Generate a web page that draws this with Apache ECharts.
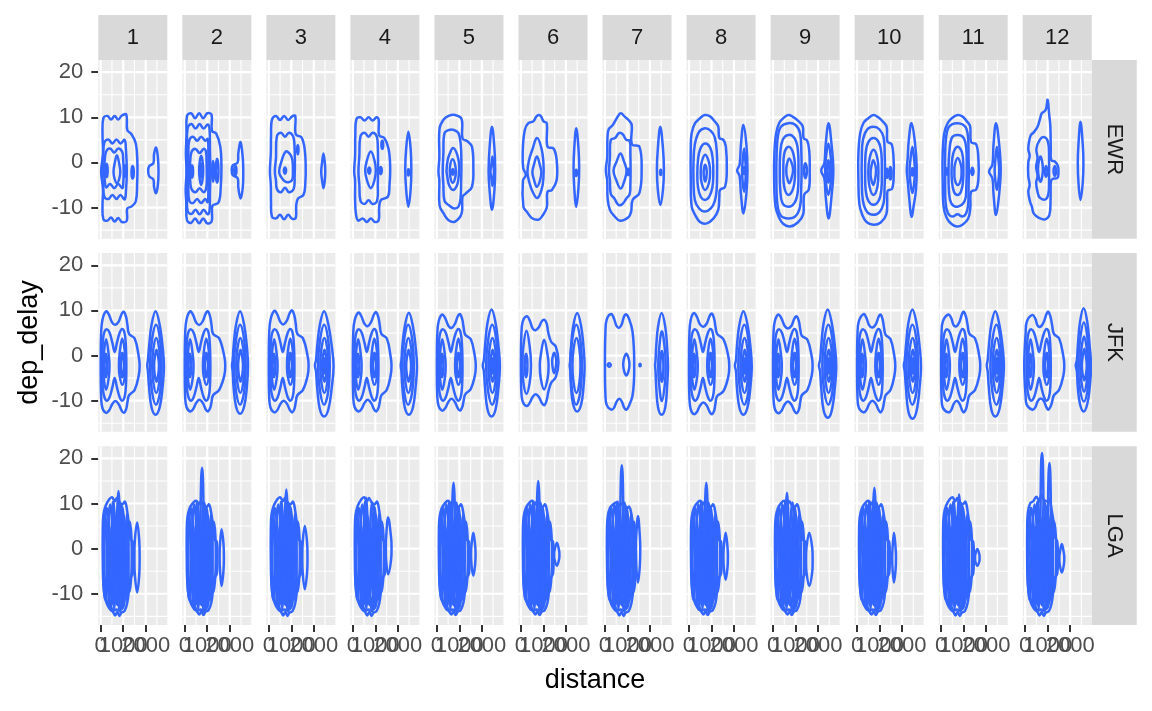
<!DOCTYPE html>
<html><head><meta charset="utf-8">
<script src="https://cdn.jsdelivr.net/npm/echarts@6/dist/echarts.min.js"></script>
<style>html,body{margin:0;padding:0;background:#fff}#c{width:1152px;height:711px}</style>
</head><body><div id="c"></div>
<script>
// ---------- categories and ticks ----------
const months = ['1','2','3','4','5','6','7','8','9','10','11','12'];
const origins = ['EWR','JFK','LGA'];
const xTickValues = [0, 1000, 2000];
const xMinorValues = [500, 1500, 2500];
const yTickValues = [-10, 0, 10, 20];
const yMinorValues = [-15, -5, 5, 15];
const distanceRange = [-107, 2960];
const delayRange = [-16.9, 22.7];

// ---------- density contour rings (distance in hundreds of miles, dep_delay) ----------
const ewrContours = [
 [ // 1
  [1.2,9.8, 3,10.3, 4.6,9.5, 6.2,10.3, 7.8,9.5, 9.4,10.4, 11.4,10.6, 11.8,7.2, 13.6,6.3, 15.6,4.2, 16.3,0, 16.2,-4.5, 15.6,-8.6, 13.6,-9.8, 11.8,-10.2, 11.6,-12.9, 9.4,-13.2, 7.8,-12.3, 6.2,-13.1, 4.6,-12.2, 3,-12.9, 1.2,-12.6, 0.8,-9.6, 1,-6, 0.2,-2, 1,2, 0.8,6.5],
  [1.6,4.4, 3.4,5.1, 5.2,4.2, 7,5.1, 8.8,4.2, 10.6,5, 11.2,3, 11.6,-2, 11.2,-6.5, 10.6,-8.2, 8.8,-7.2, 7,-8.1, 5.2,-7.2, 3.4,-8.1, 1.6,-7.6, 1.1,-5, 0.6,-2, 1.1,1.5],
  [2.4,2.4, 4.2,3.1, 6,2.2, 7.8,3.1, 9.6,2.3, 10,0.5, 10.2,-2, 10,-4.8, 9.6,-5.7, 7.8,-4.8, 6,-5.7, 4.2,-4.8, 2.4,-5.5, 1.7,-3.5, 1.3,-2, 1.7,0],
  [7.2,1.6, 8.3,-0.5, 8.7,-2, 8.3,-3.5, 7.2,-4.6, 6.1,-3.5, 5.7,-2, 6.1,-0.5],
  [2.6,-0.3, 3.1,-1.8, 2.6,-3.3, 2.1,-1.8],
  [10.8,-0.6, 11.2,-1.9, 10.8,-3.2, 10.5,-1.9],
  [14.2,-0.8, 14.7,-2.2, 14.2,-3.6, 13.7,-2.2],
  [24.6,3.3, 25.4,1.2, 25.7,-2, 25.4,-5, 24.6,-6.8, 23.7,-5.4, 23.4,-3.8, 21.6,-3.1, 21.1,-1.9, 21.6,-0.8, 23.4,-0.2, 23.7,1.8]
 ],
 [ // 2
  [1,10.3, 2.8,10.9, 4.6,9.8, 6.4,10.9, 8.2,9.8, 10,10.9, 11.9,10.6, 12.1,7, 14,6.4, 15.8,3.5, 16.3,-1, 16,-5.5, 15,-8.9, 12.3,-9.6, 12,-13, 10,-13.5, 8.2,-12.4, 6.4,-13.5, 4.6,-12.4, 2.8,-13.4, 1,-12.8, 0.7,-9, 0.4,-6, 0.8,-2, 0.5,2, 0.8,6],
  [1.3,7.7, 3,8.5, 4.8,7.5, 6.6,8.5, 8.4,7.5, 10.2,8.4, 11,7.5, 11.2,3, 11.4,-2, 11.2,-7, 11,-10.8, 10.2,-11.5, 8.4,-10.5, 6.6,-11.5, 4.8,-10.5, 3,-11.4, 1.3,-10.8, 1,-7, 0.9,-2, 1,3],
  [2,4.9, 3.7,5.7, 5.5,4.8, 7.3,5.7, 9.1,4.8, 10.2,5.2, 10.5,2, 10.6,-2, 10.5,-6, 10.2,-8.8, 9.1,-8.1, 7.3,-9, 5.5,-8.1, 3.7,-9, 2,-8.5, 1.6,-5, 1.5,-2, 1.6,1.5],
  [3,2.3, 4.8,3, 6.6,2.1, 8.4,3, 9.4,2.5, 9.7,0, 9.8,-2.5, 9.6,-5.5, 8.4,-6.6, 6.6,-5.7, 4.8,-6.6, 3,-5.9, 2.4,-4, 2.2,-2, 2.4,0],
  [7.3,1.5, 8.2,-1.8, 7.3,-5, 6.4,-1.8],
  [7.3,-0.3, 7.8,-1.8, 7.3,-3.3, 6.8,-1.8],
  [3.2,-0.6, 3.7,-2, 3.2,-3.4, 2.8,-2],
  [12.6,0.3, 13,-2, 12.6,-4.3, 12.2,-2],
  [14.4,0.8, 15,-1.9, 14.4,-4.5, 13.8,-1.9],
  [24.8,4.5, 25.8,1, 26,-2, 25.8,-5.5, 24.8,-8, 23.8,-5.5, 23.5,-3.5, 21.3,-2.8, 20.9,-1.8, 21.3,-0.7, 23.5,0, 23.8,2],
  [22.5,-0.8, 23,-1.8, 22.5,-2.8, 22,-1.8]
 ],
 [ // 3
  [1.4,9.5, 3.2,10.3, 5,9.4, 6.8,10.3, 8.6,9.4, 10.4,10.2, 11.8,10.3, 12,6.2, 14.5,5.6, 15.8,3.5, 16.4,-0.5, 16.2,-5, 15.4,-7.2, 13,-8, 12.2,-9.5, 12,-12.3, 10.4,-12.5, 8.6,-11.6, 6.8,-12.6, 5,-11.6, 3.2,-12.4, 1.4,-12, 1,-9, 0.9,-5, 0.5,-2, 0.9,2, 1,6],
  [3.6,5.8, 5.4,6.6, 7.2,5.7, 9,6.6, 10.8,5.8, 11.4,4, 11.6,0, 11.5,-3, 11.1,-5.8, 9,-6.6, 7.2,-5.6, 5.4,-6.6, 3.6,-5.9, 3.2,-4, 2.7,-2, 3.2,1],
  [7.5,2.4, 9.5,1.8, 10.5,0.5, 10.7,-2.2, 10.2,-4, 7.5,-4.3, 5.2,-3, 4.6,-2, 5.2,-0.5],
  [7.2,-1.1, 7.7,-1.8, 7.2,-2.5, 6.7,-1.8],
  [12.9,3.8, 13.2,2.8, 12.9,1.8, 12.6,2.8],
  [24.3,2, 24.9,0, 25.1,-2, 24.9,-4, 24.3,-5.7, 23.7,-4, 23.3,-2, 23.7,0]
 ],
 [ // 4
  [1.6,9.6, 3.4,10, 5.2,9.3, 7,10, 8.8,9.3, 10.6,10, 11.5,9.5, 11.7,6, 14,5.4, 15.9,3, 16.6,-1, 16.3,-5, 15.6,-7.6, 12.5,-8.3, 11.7,-10, 11.5,-12.8, 9.8,-13.2, 8,-12.4, 6.2,-13.2, 4.4,-12.4, 2.4,-12.9, 1.4,-11.5, 1,-8, 1,-4, 0.6,-2, 1,1.5, 1.1,6],
  [3.4,5.8, 5.2,6.6, 7,5.7, 8.8,6.6, 10.6,5.8, 11.1,3.5, 11.2,-1, 11.1,-5, 10.8,-8.5, 8.8,-9.2, 7,-8.4, 5.2,-9.2, 3.4,-8.5, 2.9,-5, 2.5,-2, 2.9,1.5],
  [8,2.4, 9.6,0.5, 10.2,-1.8, 9.6,-4, 8,-5.7, 6.3,-4, 5.5,-1.8, 6.3,0.5],
  [7.3,-1.1, 7.8,-1.8, 7.3,-2.5, 6.8,-1.8],
  [12.4,-1, 12.9,-1.8, 12.4,-2.6, 11.9,-1.8],
  [13.1,4.8, 13.5,3.9, 13.1,3, 12.7,3.9],
  [24.7,6.8, 25.7,3, 26,-1.5, 25.7,-6, 24.7,-9.8, 23.7,-6, 23.3,-1.5, 23.7,3],
  [24.7,-1.5, 25,-2.2, 24.7,-2.9, 24.4,-2.2]
 ],
 [ // 5
  [3,9.5, 5.2,10.3, 8.1,10.5, 11,9.6, 11.4,5.3, 13.6,4.7, 15.6,3.5, 16.2,-1, 15.6,-5.4, 12.8,-6.9, 11.4,-7.6, 11,-11.3, 8.1,-13.1, 5.2,-12.8, 3,-11.3, 1.2,-9.5, 1.1,-4, 0.7,-2, 1.1,1, 1.2,7.5],
  [3.4,6.5, 5.4,7.2, 7.6,7.2, 9.6,6.5, 10.6,4, 10.9,0, 10.8,-4, 10.5,-8, 9.6,-9.8, 7.6,-10.2, 5.4,-9.5, 3.4,-8.5, 2.9,-5, 2.6,-2, 2.9,2],
  [7.2,3.2, 9,1.8, 9.9,-0.5, 9.7,-3, 9,-5, 7.2,-6.1, 5.4,-5, 4.6,-3, 4.3,-1.8, 4.8,0.5, 5.6,1.8],
  [7,0.7, 8.3,-1, 8.3,-3, 7,-4.5, 5.9,-3, 5.8,-1],
  [7.1,-1.5, 7.5,-2.1, 7.1,-2.7, 6.7,-2.1],
  [24.5,7.9, 25.6,3, 25.9,-1.5, 25.6,-6, 24.5,-10.5, 23.4,-6, 23,-2, 23.4,3],
  [24.7,1.3, 25.3,-1, 25.3,-3, 24.7,-5.2, 24.1,-3, 23.8,-2, 24.1,-1]
 ],
 [ // 6
  [1.8,7.3, 3.3,8.7, 5.5,9.1, 7.1,10.3, 8.6,10.4, 10.1,9.1, 11.5,8.7, 11.8,3.5, 14.5,3.1, 15.9,0.5, 15.9,-3.9, 13.8,-6.1, 11.8,-6.5, 11.5,-10, 9.3,-12, 7.8,-12.7, 4.8,-12.3, 2.6,-10.9, 1.1,-9.8, 0.9,-4, 2.2,-2.8, 1,-1.2, 0.9,3.5],
  [7.1,5.4, 9,3.4, 10,0, 10,-3.5, 9.2,-6, 7.3,-7.9, 5.2,-6.5, 3.8,-4.5, 2.9,-2.2, 3.6,0.5, 5.2,3],
  [7.1,1.3, 8.5,-0.7, 9.1,-2.2, 8.5,-4, 7.1,-5.4, 5.8,-3.8, 5.1,-2.2, 5.8,-0.5],
  [24.6,7.6, 25.6,3, 25.9,-1.2, 25.6,-5.5, 24.6,-9.8, 23.7,-5.5, 23.4,-1.2, 23.7,3],
  [24.6,-1.6, 24.9,-2.3, 24.6,-3, 24.3,-2.3]
 ],
 [ // 7
  [1.6,7.3, 3.5,8.3, 5.5,10, 7,10.9, 8.9,10.1, 10.5,9.4, 11.9,8.3, 12,4, 15.3,3.5, 16.3,-1.7, 15.3,-6.8, 12.3,-8.3, 11.6,-11, 10.3,-12.2, 6.7,-12.9, 4,-11.8, 2.2,-10.5, 1.2,-8, 1,-4, 0.4,-1.7, 1,1, 1.1,5],
  [2.6,5, 4.5,5.4, 6.2,6.5, 7.8,6.3, 9.5,5, 11,4.8, 11.3,2, 11.4,-1.7, 11.3,-5, 11,-7, 9.5,-8, 7.8,-9.2, 6,-9.4, 4.2,-8, 2.6,-7, 2.2,-4, 1.8,-2, 2.2,1],
  [6.9,2, 8.4,0.3, 9.6,-1.8, 8.8,-3.8, 7,-5.8, 5.1,-4, 3.8,-1.8, 5.2,0.2],
  [10.4,-1.4, 10.8,-2.1, 10.4,-2.8, 10,-2.1],
  [24.6,7.9, 25.8,3, 26.2,-1.5, 25.8,-6, 24.6,-9.4, 23.5,-6, 23.1,-1.5, 23.5,3],
  [24.8,-1.6, 25.1,-2.2, 24.8,-2.8, 24.5,-2.2]
 ],
 [ // 8
  [1.2,6.5, 2.7,8.7, 4.9,9.8, 7.1,10.5, 9.4,10.2, 11.6,9, 13,8, 13.5,5.4, 15.3,5, 16.4,3.5, 16.8,-1.7, 16,-5.4, 13.8,-6.1, 13.5,-7.6, 13,-10.5, 10.9,-12.4, 7.9,-13.5, 4.9,-13.2, 2.7,-11.6, 1.2,-9.8, 0.8,-4, 0.8,3.5],
  [4.5,6.8, 7.1,7.6, 9.7,7, 11.5,5.5, 12.4,2, 12.5,-2, 12.3,-6, 11.5,-8.5, 9.7,-10.2, 7.1,-10.9, 4.5,-10.2, 2.6,-8.3, 2,-4, 2,0, 2.6,4],
  [7.1,4.2, 9.5,3.2, 10.6,0.5, 10.8,-2.5, 10.4,-5.5, 9,-7.6, 7.1,-8.3, 5.2,-7.6, 4,-5.5, 3.7,-2.5, 4,0.5, 5,3],
  [7.2,1.7, 8.9,0, 9.4,-2.2, 8.9,-4.5, 7.2,-6.1, 5.6,-4.5, 5.2,-2.2, 5.6,0],
  [7.2,-0.5, 7.9,-2.2, 7.2,-4.2, 6.5,-2.2],
  [24.2,8.3, 25.5,4, 26,-1.7, 25.5,-7, 24.2,-11.3, 23.1,-7, 22.5,-3, 21.4,-1.8, 22.5,-0.5, 23.1,4],
  [24.5,3.1, 25.1,0, 25.3,-1.8, 25.1,-4, 24.5,-6.5, 23.8,-4, 23.6,-1.8, 23.8,0],
  [24.5,-1, 24.9,-1.8, 24.5,-2.6, 24.1,-1.8]
 ],
 [ // 9
  [1.4,6.5, 2.8,8.8, 4.8,9.9, 6.8,10.5, 8.8,10.1, 11.2,9.2, 13.2,8, 13.6,5.4, 15.2,4.8, 16.1,2.5, 16.3,-1.7, 15.9,-6, 14,-7, 13.6,-8.3, 13.4,-11.5, 11,-13.3, 7.5,-14.2, 4.5,-13.6, 2.5,-12, 1.1,-9.8, 0.5,-4, 0.6,2],
  [3.5,7.9, 6.8,8.7, 10,8.3, 12,6.5, 12.6,2, 12.7,-2, 12.5,-6, 12,-9.8, 10,-11.9, 6.8,-12.4, 3.5,-11.8, 2,-9.5, 1.5,-4, 1.6,2, 2.2,6],
  [6.8,6.1, 9.5,5.4, 11,3, 11.3,-2, 11,-6.5, 9.5,-9, 6.8,-9.8, 4.2,-9, 3.2,-6, 3,-2, 3.2,2, 4.3,5],
  [6.9,3.5, 9,2, 9.8,-1.8, 9.1,-5.5, 6.9,-7.2, 5,-5.5, 4.6,-1.8, 5,2],
  [7.2,0.9, 8.6,-0.6, 8.9,-1.8, 8.5,-3, 7.2,-4.6, 6.1,-3, 5.9,-1.8, 6.1,-0.6],
  [14.4,-0.2, 15.1,-1.8, 14.4,-3.5, 13.8,-1.8],
  [24.7,8.7, 26,4, 26.8,-1.8, 26,-7.5, 24.7,-12.4, 23.4,-7.5, 22.8,-3.5, 21.4,-1.8, 22.8,-0.2, 23.4,4],
  [24.6,4.2, 25.7,1, 26,-1.8, 25.7,-4.5, 24.6,-7.2, 23.5,-4.5, 23.2,-1.8, 23.5,1],
  [24.6,0.5, 25.2,-1.8, 24.6,-4.5, 24,-1.8]
 ],
 [ // 10
  [1.4,6.5, 2.9,8.8, 5,9.8, 7.3,10.5, 9.4,10, 11.6,9, 13.2,7.8, 13.5,4.6, 15.4,4, 16.2,1, 16.3,-2.5, 15.6,-5.8, 13.6,-6.3, 13.4,-8.5, 13,-11.5, 10.5,-13.3, 7.3,-13.8, 4.2,-13.2, 2.3,-11.6, 1,-9.2, 0.6,-4, 0.6,2],
  [4.5,7.3, 7.3,7.9, 10,7.3, 11.8,5.5, 12.3,1.5, 12.4,-2, 12.2,-6, 11.8,-9, 10,-11, 7.3,-11.6, 4.5,-11, 2.6,-8.5, 2.1,-4, 2.1,1, 2.6,5],
  [7.3,5.4, 9.6,4.5, 10.8,2, 11,-2, 10.8,-6, 9.6,-8.5, 7.3,-9.4, 5,-8.5, 3.8,-6, 3.6,-2, 3.8,2, 5,4.5],
  [7.3,2.8, 9,1, 9.5,-2, 9,-5.5, 7.3,-7.2, 5.6,-5.5, 5,-2, 5.6,1],
  [7.2,0.5, 8.3,-1, 8.4,-2.2, 8.1,-3.5, 7.2,-5, 6.2,-3.5, 6,-2.2, 6.3,-1],
  [13.3,-1.4, 13.7,-2.4, 13.3,-3.4, 12.9,-2.4],
  [14.8,-1, 15.3,-2.4, 14.8,-3.8, 14.3,-2.4],
  [24.2,8.7, 25.7,4.5, 26.5,-1, 26.2,-6, 25.2,-9.5, 24.2,-12, 23.2,-8, 22.5,-4, 22.1,-1.8, 22.5,1, 23,5],
  [24.6,3.5, 25.4,0.5, 25.7,-1.8, 25.4,-4.5, 24.6,-6.8, 23.7,-4.5, 23.3,-1.8, 23.7,0.5],
  [24.6,-1.3, 25,-2.1, 24.6,-2.9, 24.2,-2.1]
 ],
 [ // 11
  [1.4,6.5, 3,8.8, 5,9.9, 7.3,10.5, 9.4,10.2, 11.3,9.2, 12.9,8, 13.3,4.5, 15.6,4, 16.6,0.5, 16.6,-3.5, 15.6,-6, 13.3,-6.5, 13,-10, 12,-12.5, 9.5,-13.8, 7,-14.2, 4.5,-13.6, 2.4,-12.2, 1.1,-9.8, 0.7,-4, 0.7,2],
  [3.2,7.7, 5,8.5, 7.3,8.7, 9.6,8.4, 11.2,7.5, 12,5.5, 12.2,1, 12.3,-2, 12.2,-6, 12,-9.5, 11,-11.4, 9.4,-12, 7.3,-11.5, 5,-12, 3,-11.2, 2,-9, 1.8,-4, 1.8,2, 2.2,5.5],
  [4.8,5.5, 7.3,6.1, 9.8,5.6, 11.1,3.5, 11.4,-1, 11.2,-5.5, 10.5,-8.5, 7.3,-9.8, 4.5,-9, 3.5,-6.5, 3.3,-2, 3.6,2],
  [7.3,3.5, 9.3,2.2, 9.9,-1, 9.7,-4.5, 8.8,-6.5, 7.3,-7.2, 5.7,-6.5, 4.8,-4, 4.7,-1, 5.4,2],
  [7.4,1, 8.8,-0.5, 9.1,-2, 8.8,-3.8, 7.4,-5, 6.1,-3.8, 5.9,-2, 6.1,-0.5],
  [2.6,-1.3, 2.9,-2, 2.6,-2.7, 2.3,-2],
  [13.9,-1.2, 14.4,-2, 13.9,-2.8, 13.4,-2],
  [24.4,8.7, 25.8,4, 26.5,-1.5, 25.9,-6.5, 24.4,-11.6, 23.3,-7, 22.8,-3.5, 21.3,-2, 22.8,-0.5, 23.3,4],
  [24.8,3.5, 25.5,0.5, 25.8,-1.8, 25.5,-4, 24.8,-6.1, 24.1,-4, 23.8,-1.8, 24.1,0.5]
 ],
 [ // 12
  [10,13.9, 10.6,11, 11.2,8, 11.4,3, 11.6,0.5, 13.2,0.2, 14.6,-0.8, 14.8,-2.2, 14.4,-3.4, 12.5,-3.6, 11.5,-4, 11.3,-8, 10.8,-11.6, 8.9,-12.6, 6.7,-12.4, 5.2,-12, 3.7,-11.2, 3,-9.8, 2.2,-8.7, 1.4,-6.5, 2,-5, 1.4,-3, 1.4,0, 2,1.5, 1.4,3, 1.9,5, 2.6,6.1, 3.7,6.6, 5.5,7.9, 6.7,9.8, 7.4,10.9, 9.1,11.6],
  [8.5,5.6, 10.2,4.5, 10.6,1, 10.6,-4, 10.3,-7, 9,-8.2, 6.5,-7.8, 5.5,-6.5, 4.9,-4.5, 5.5,-3, 4.9,-1, 5.5,1, 5,3, 6.5,5],
  [6.8,1.3, 7.9,-1.5, 6.8,-4.3, 5.7,-1.5],
  [9.3,-0.8, 9.9,-2, 9.3,-3.2, 8.7,-2],
  [13.2,-0.8, 13.8,-1.9, 13.2,-3, 12.6,-1.9],
  [24.6,9, 25.6,4, 25.9,0, 25.6,-4.5, 24.6,-8.3, 23.7,-4.5, 23.4,0, 23.7,4]
 ]
];

// shared JFK inner rings (same shape in most months)
const jfkDumbbell = [1,3.5, 1.7,5.3, 2.8,5.8, 4,5, 5.2,2.8, 6.2,0.8, 7.2,2.8, 8.4,5, 9.5,5.9, 10.6,5, 11.2,2, 11.4,-2.2, 11.2,-6.8, 10.6,-9.2, 9.5,-10, 8.4,-9.2, 7.2,-7, 6.2,-5, 5.2,-7, 4,-9.2, 2.8,-10, 1.7,-9.3, 1,-7.5, 0.6,-2.2];
const jfkLeftLobe = [2.4,3.6, 3.6,0, 3.9,-2.2, 3.6,-4.8, 2.4,-7.6, 1.3,-4.8, 1.1,-2.2, 1.3,0];
const jfkLeftCore = [2.3,0.4, 2.9,-2.2, 2.3,-4.8, 1.7,-2.2];
const jfkMidLobe = [9.6,3.8, 10.8,0.5, 11,-2.2, 10.8,-4.5, 9.6,-6.5, 8.4,-4.5, 8.1,-2.2, 8.4,0.5];
const jfkMidCore = [9.6,0.6, 10.3,-2.2, 9.6,-4.8, 8.9,-2.2];
const jfkFar2 = [24.6,6.8, 26.4,3.5, 27.1,-2.2, 26.4,-8, 24.6,-10.9, 22.8,-8, 21.9,-2.2, 22.8,3.5];
const jfkFar3 = [24.7,3.9, 26,1.5, 26.5,-2.2, 26,-6, 24.7,-8.3, 23.4,-6, 22.9,-2.2, 23.4,1.5];
const jfkFar4 = [24.8,1.3, 25.6,-0.5, 25.9,-2.2, 25.6,-4.2, 24.8,-5.8, 24,-4.2, 23.7,-2.2, 24,-0.5];
const jfkFar5 = [24.9,-0.6, 25.4,-2.2, 24.9,-4, 24.4,-2.2];

const jfkContours = [
 [ // 1
  [0.2,5, 0.8,8, 2.4,9.8, 3.7,9, 5.1,7.3, 6.5,6.8, 8,7.5, 9.3,9.2, 10.3,9.7, 11.3,8.5, 11.9,6.7, 12.6,4.8, 15.1,3.8, 16.9,-0.2, 17.3,-2.2, 16.9,-4.4, 15.1,-7.6, 12.6,-8.8, 11.9,-10.3, 11.3,-11.9, 10.3,-12.7, 9.3,-12.2, 8,-10.8, 6.5,-10.1, 5.1,-10.8, 3.7,-12.2, 2.4,-12.7, 0.8,-11.7, 0.2,-9.3, 0,-2.2],
  jfkDumbbell, jfkLeftLobe, jfkLeftCore, jfkMidLobe, jfkMidCore,
  [24.4,9.8, 26.2,6.8, 27.5,2, 28.1,-2.3, 27.5,-7, 26.2,-11.5, 24.4,-13.1, 22.6,-11.5, 21.5,-7, 21,-3.5, 20.7,-2.2, 21,-1, 21.5,2, 22.6,6.8],
  jfkFar2, jfkFar3, jfkFar4
 ],
 [ // 2
  [0.2,5, 0.8,8, 2.4,9.8, 3.7,9, 5.1,7.3, 6.5,6.8, 8,7.6, 9.3,9.3, 10.3,9.8, 11.3,8.6, 11.9,6.8, 12.6,4.8, 15.3,3.8, 17.6,-0.2, 18,-2.2, 17.6,-4.4, 15.3,-7.6, 12.6,-8.8, 11.9,-10.3, 11.3,-11.6, 10.3,-12.4, 9.3,-11.9, 8,-10.5, 6.5,-9.8, 5.1,-10.5, 3.7,-11.9, 2.4,-12.4, 0.8,-11.4, 0.2,-9.3, 0,-2.2],
  jfkDumbbell, jfkLeftLobe, jfkLeftCore, jfkMidLobe, jfkMidCore,
  [24.6,9.8, 26.4,6.8, 27.6,2, 28.1,-2.3, 27.6,-7, 26.4,-11.3, 24.6,-12.9, 22.8,-11.3, 21.7,-7, 21.3,-3.5, 21,-2.2, 21.3,-1, 21.7,2, 22.8,6.8],
  jfkFar2, jfkFar3, jfkFar4
 ],
 [ // 3
  [0.2,5, 0.8,8, 2.5,9.9, 3.8,9.1, 5.2,7.4, 6.6,6.9, 8.1,7.8, 9.4,9.5, 10.4,10, 11.4,8.8, 12,7, 12.7,4.8, 15.2,3.8, 17.3,-0.2, 17.7,-2.2, 17.3,-4.4, 15.2,-7.6, 12.7,-8.8, 12,-10.3, 11.4,-11.8, 10.4,-12.6, 9.4,-12.1, 8.1,-10.7, 6.6,-10, 5.2,-10.7, 3.8,-12.1, 2.5,-12.6, 0.8,-11.6, 0.2,-9.3, 0,-2.2],
  jfkDumbbell, jfkLeftLobe, jfkLeftCore, jfkMidLobe, jfkMidCore,
  [24.6,9.8, 26.5,6.8, 28,2, 28.8,-2.3, 28,-7, 26.5,-11.9, 24.6,-13.5, 22.7,-11.9, 21.5,-7, 21,-3.5, 20.5,-2.2, 21,-1, 21.5,2, 22.7,6.8],
  jfkFar2, jfkFar3, jfkFar4, jfkFar5
 ],
 [ // 4
  [0.2,5, 0.8,7.8, 2.5,9.5, 3.8,8.7, 5.2,7, 6.6,6.5, 8.1,7.4, 9.4,9.1, 10.4,9.6, 11.4,8.4, 12,6.6, 12.7,4.8, 15.1,3.8, 16.8,-0.2, 17.2,-2.2, 16.8,-4.4, 15.1,-7.6, 12.7,-8.8, 12,-10.3, 11.4,-11.6, 10.4,-12.4, 9.4,-11.9, 8.1,-10.5, 6.6,-9.8, 5.2,-10.5, 3.8,-11.9, 2.5,-12.4, 0.8,-11.4, 0.2,-9.3, 0,-2.2],
  jfkDumbbell, jfkLeftLobe, jfkLeftCore, jfkMidLobe, jfkMidCore,
  [24.9,9.5, 26.7,6.5, 27.9,2, 28.5,-2.3, 27.9,-7, 26.7,-11.5, 24.9,-13.1, 23.1,-11.5, 22,-7, 21.6,-3.5, 21.3,-2.2, 21.6,-1, 22,2, 23.1,6.5],
  jfkFar2, jfkFar3, jfkFar4
 ],
 [ // 5
  [0.2,4.8, 0.8,7.6, 2.4,9.1, 3.7,8.3, 5.1,6.6, 6.5,6.1, 8,7, 9.3,8.7, 10.3,9.2, 11.3,8, 11.9,6.2, 12.6,4.6, 15.1,3.6, 16.9,-0.2, 17.3,-2.2, 16.9,-4.4, 15.1,-7.4, 12.6,-8.6, 11.9,-10, 11.3,-11.4, 10.3,-12.2, 9.3,-11.7, 8,-10.3, 6.5,-9.6, 5.1,-10.3, 3.7,-11.7, 2.4,-12.2, 0.8,-11.2, 0.2,-9, 0,-2.2],
  jfkDumbbell, jfkLeftLobe, jfkLeftCore, jfkMidLobe, jfkMidCore,
  [24.3,10.2, 26.1,7.2, 27.4,2, 28,-2.3, 27.4,-7, 26.1,-11.9, 24.3,-13.5, 22.5,-11.9, 21.4,-7, 20.9,-3.5, 20.4,-2.2, 20.9,-1, 21.4,2, 22.5,7.2],
  jfkFar2, jfkFar3, jfkFar4, jfkFar5
 ],
 [ // 6
  [0.2,4.5, 0.8,7.5, 2.6,8.7, 3.9,7.8, 5.2,6, 6.5,5.6, 8,6.3, 9.3,7.6, 10.5,7.9, 11.5,7, 12.2,5, 13.5,3, 15.5,2, 16.7,-1.5, 15.5,-4.8, 13.5,-6, 12.2,-8, 11.5,-9.8, 10.5,-11, 9.3,-10.5, 8,-9.2, 6.5,-8.6, 5.2,-9.2, 3.9,-10.5, 2.6,-11.2, 0.8,-10.2, 0.2,-8, 0,-2.2],
  [2.5,5.5, 3.9,2, 4.5,-2.2, 3.9,-6, 2.5,-8.5, 1.1,-6, 0.7,-2.2, 1.1,2],
  jfkLeftCore,
  [10.3,3.5, 11.9,0, 12.3,-2.2, 11.9,-5, 10.3,-7.5, 8.8,-5, 8.4,-2.2, 8.8,0],
  [14.8,0.6, 15.7,-1.3, 14.8,-3.9, 13.9,-1.3],
  [25,9.4, 26.8,6.4, 27.8,2, 28.3,-2.3, 27.8,-7, 26.8,-10.8, 25,-12.4, 23.2,-10.8, 22.3,-7, 22,-3.5, 21.7,-2.2, 22,-1, 22.3,2, 23.2,6.4],
  jfkFar2, jfkFar3
 ],
 [ // 7
  [0.2,5, 0.8,8, 2.8,9.2, 4,8.2, 5.2,6.5, 6.4,6.2, 7.5,7, 8.6,8.8, 9.6,9.1, 10.8,8, 12.2,5.5, 12.9,1, 13,-2.2, 12.9,-5.5, 12.2,-9, 10.8,-11, 9.6,-12, 8.6,-11.6, 7.5,-10.2, 6.4,-9.6, 5.2,-10.2, 4,-11.6, 2.8,-12, 0.8,-11, 0.2,-8.5, 0,-2.2],
  [1.9,-1.7, 2.6,-2.1, 1.9,-2.5, 1.2,-2.1],
  [9.5,0.4, 10.9,-2, 9.5,-4.4, 8.1,-2],
  [15.6,-1.8, 15.9,-2.1, 15.6,-2.4, 15.3,-2.1],
  [25.2,9.4, 26.8,6.4, 27.6,2, 28,-2.3, 27.6,-7, 26.8,-11.5, 25.2,-13.1, 23.6,-11.5, 22.8,-7, 22.5,-3.5, 22.3,-2.2, 22.5,-1, 22.8,2, 23.6,6.4],
  [25.3,5.4, 26.7,1, 27,-2.3, 26.7,-6, 25.3,-10.1, 24,-6, 23.7,-2.3, 24,1],
  [25.3,1, 26,-2.3, 25.3,-5.8, 24.6,-2.3]
 ],
 [ // 8
  [0.2,5, 0.8,8, 2.2,9.4, 3.5,8.6, 4.9,6.9, 6.4,6.4, 7.9,7.1, 9.2,8.8, 10.2,9.3, 11.2,8.1, 11.8,6.3, 12.5,4.8, 15.3,3.6, 17.5,-0.2, 17.9,-2.4, 17.5,-4.6, 15.3,-7.9, 12.5,-9, 11.8,-10.5, 11.2,-12.2, 10.2,-13, 9.2,-12.5, 7.9,-11.1, 6.4,-10.4, 4.9,-11.1, 3.5,-12.5, 2.2,-13, 0.8,-12, 0.2,-9.5, 0,-2.4],
  jfkDumbbell, jfkLeftLobe, jfkLeftCore, jfkMidLobe, jfkMidCore,
  [24.2,9.8, 26,6.8, 27.3,2, 27.9,-2.3, 27.3,-7, 26,-11.5, 24.2,-13.1, 22.4,-11.5, 21.3,-7, 20.9,-3.5, 20.4,-2.2, 20.9,-1, 21.3,2, 22.4,6.8],
  jfkFar2, jfkFar3, jfkFar4, jfkFar5
 ],
 [ // 9
  [0.2,4.8, 0.8,7.6, 2.4,9.1, 3.7,8.3, 5.1,6.6, 6.6,6, 8.2,6.6, 9.5,8.2, 10.5,8.7, 11.5,7.6, 12.1,5.8, 12.8,4.4, 15.3,3.5, 17.2,-0.2, 17.6,-2.2, 17.2,-4.4, 15.3,-7.6, 12.8,-8.8, 12.1,-10.3, 11.5,-12, 10.5,-12.8, 9.5,-12.3, 8.2,-10.9, 6.6,-10.2, 5.1,-10.9, 3.7,-12.3, 2.4,-12.8, 0.8,-11.8, 0.2,-9.3, 0,-2.2],
  jfkDumbbell, jfkLeftLobe, jfkLeftCore, jfkMidLobe, jfkMidCore,
  [24.3,10.2, 26.1,7.2, 27.5,2, 28.1,-2.3, 27.5,-7, 26.1,-12.2, 24.3,-13.8, 22.5,-12.2, 21.4,-7, 20.9,-3.5, 20.4,-2.2, 20.9,-1, 21.4,2, 22.5,7.2],
  jfkFar2, jfkFar3, jfkFar4, jfkFar5
 ],
 [ // 10
  [0.2,4.8, 0.8,7.6, 2.9,9.2, 4.1,8.4, 5.4,6.7, 6.8,6.2, 8.3,6.9, 9.6,8.6, 10.5,9.1, 11.4,7.9, 12,6.1, 12.7,4.6, 14.9,3.6, 16.6,-0.2, 17,-2.2, 16.6,-4.4, 14.9,-7.6, 12.7,-8.8, 12,-10.3, 11.4,-11.8, 10.5,-12.6, 9.6,-12.1, 8.3,-10.7, 6.8,-10, 5.4,-10.7, 4.1,-12.1, 2.9,-12.6, 0.8,-11.6, 0.2,-9.3, 0,-2.2],
  jfkDumbbell, jfkLeftLobe, jfkLeftCore, jfkMidLobe, jfkMidCore,
  [24.6,10.2, 26.4,7.2, 27.8,2, 28.4,-2.3, 27.8,-7, 26.4,-12.4, 24.6,-14, 22.8,-12.4, 21.7,-7, 21.2,-3.5, 20.8,-2.2, 21.2,-1, 21.7,2, 22.8,7.2],
  jfkFar2, jfkFar3, jfkFar4, jfkFar5
 ],
 [ // 11
  [0.2,4.8, 0.8,7.6, 3.3,9.1, 4.5,8.3, 5.6,6.7, 6.9,6.5, 8.2,7.5, 9.3,9.2, 10.1,9.7, 11.1,8.5, 11.8,6.7, 12.6,4.8, 15.1,3.8, 17,-0.2, 17.4,-2.2, 17,-4.4, 15.1,-7.6, 12.6,-8.8, 11.8,-10.3, 11.1,-11.8, 10.1,-12.6, 9.3,-12.1, 8.2,-10.7, 6.9,-10, 5.6,-10.7, 4.5,-12.1, 3.3,-12.6, 0.8,-11.6, 0.2,-9.3, 0,-2.2],
  jfkDumbbell, jfkLeftLobe, jfkLeftCore, jfkMidLobe, jfkMidCore,
  [24.1,9.8, 25.9,6.8, 27.3,2, 27.9,-2.3, 27.3,-7, 25.9,-11.9, 24.1,-13.5, 22.3,-11.9, 21.2,-7, 20.7,-3.5, 20.3,-2.2, 20.7,-1, 21.2,2, 22.3,6.8],
  jfkFar2, jfkFar3, jfkFar4, jfkFar5
 ],
 [ // 12
  [0.2,4.8, 0.8,7.6, 3.3,9, 4.5,8.2, 5.6,6.6, 6.9,6.4, 8.3,7.5, 9.5,9.2, 10.3,9.7, 11.3,8.5, 12,6.7, 12.8,4.8, 15.1,3.8, 17,-0.2, 17.4,-2.2, 17,-4.4, 15.1,-7.6, 12.8,-8.8, 12,-10.2, 11.3,-11.3, 10.3,-12, 9.5,-11.5, 8.3,-10.1, 6.9,-9.5, 5.6,-10.1, 4.5,-11.5, 3.3,-12, 0.8,-11, 0.2,-9, -0.4,-2.2],
  jfkDumbbell, jfkLeftLobe, jfkLeftCore, jfkMidLobe, jfkMidCore,
  [26,10.5, 27.6,7.5, 28.7,2, 29.3,-2.3, 28.7,-7, 27.6,-10.8, 26,-12.4, 24.4,-10.8, 23.4,-7, 23,-3.5, 22.5,-2.2, 23,-1, 23.4,2, 24.4,7.5],
  [26.1,7.3, 27.8,3.5, 28.5,-2.2, 27.8,-7.5, 26.1,-10.2, 24.4,-7.5, 23.6,-2.2, 24.4,3.5],
  [26.2,4.2, 27.4,1.5, 27.9,-2.2, 27.4,-5.8, 26.2,-8, 25,-5.8, 24.5,-2.2, 25,1.5],
  [26.3,1.5, 27.1,-0.5, 27.4,-2.2, 27.1,-4, 26.3,-5.5, 25.5,-4, 25.2,-2.2, 25.5,-0.5]
 ]
];

// LGA: shared dense core columns, body outlines, spikes and the far-right lobe
const lgaCore = [
 [1.9,7.5, 2.6,4, 2.9,-2, 2.6,-8, 1.9,-11.3, 1.3,-8, 1.2,-2, 1.3,4],
 [4.2,9.8, 5,6, 5.3,-2, 5,-10, 4.2,-13.2, 3.4,-10, 3.2,-2, 3.4,6],
 [6,8.5, 6.5,4, 6.7,-2, 6.5,-9, 6,-13.5, 5.5,-9, 5.3,-2, 5.5,4],
 [9.6,9.3, 10.3,6, 10.6,-2, 10.3,-10, 9.6,-13.2, 8.9,-10, 8.7,-2, 8.9,6],
 [11.7,7.8, 12.2,4, 12.4,-2, 12.2,-8, 11.7,-11.5, 11.2,-8, 11,-2, 11.2,4],
 [7.7,5, 8.3,1, 8.5,-2, 8.3,-6, 7.7,-10, 7.1,-6, 6.9,-2, 7.1,1],
 [3.3,3, 3.8,0, 3.9,-2, 3.8,-5, 3.3,-8.5, 2.8,-5, 2.7,-2, 2.8,0],
 [7.7,1, 8.1,-1, 8.2,-2.5, 8.1,-4, 7.7,-6, 7.3,-4, 7.2,-2.5, 7.3,-1],
 [10.5,3, 11,0, 11.1,-2, 11,-5, 10.5,-8, 10,-5, 9.9,-2, 10,0],
 [5,5, 5.7,-0.5, 5.9,-3, 5.6,-7, 5,-11, 4.4,-7, 4.2,-3, 4.4,-0.5],
 [2.5,9, 3.5,6.5, 4.2,1, 4.4,-4, 4,-10, 3.2,-12.5, 2.2,-10, 1.6,-4, 1.7,1, 2,6],
 [8.6,10.2, 9.4,7.5, 9.7,1, 9.8,-5, 9.4,-11, 8.6,-14, 7.8,-11, 7.6,-5, 7.7,1, 8,7.5],
 [12.9,6, 13.6,3, 13.8,-2, 13.6,-6, 12.9,-9.5, 12.3,-6, 12.1,-2, 12.3,3],
 [6.8,7, 7.3,3, 7.5,-3, 7.3,-8, 6.8,-12, 6.3,-8, 6.1,-3, 6.3,3],
 [10.1,7.5, 10.8,3, 11.2,-3, 10.9,-9, 10.1,-12.5, 9.4,-9, 9.2,-3, 9.4,3],
 [5.6,10.4, 6.1,7.5, 6.2,4, 5.8,3.5, 5.2,6, 5.1,8.5],
 [3.8,-9, 4.8,-10, 5.8,-12.5, 6.6,-11, 7.5,-12.5, 8.5,-11, 9.5,-12.5, 10.6,-11, 10,-13, 8.5,-13.6, 7,-13.5, 5.5,-13.7, 4.2,-12]
];
const lgaBodyA = [0.9,-2, 0.9,4, 1.2,7.5, 2.2,9.5, 3.6,10.8, 5,11.4, 6.3,10.5, 7.2,11.2, 8.4,10.2, 9.6,9.8, 10.8,10.4, 11.8,8.2, 12.6,5, 13.3,2, 14.3,1.5, 14.5,-2, 14.3,-5.5, 13.3,-6.5, 12.6,-9, 11.8,-12, 10.6,-13.8, 9.2,-14.2, 8.3,-14.9, 7.4,-14, 6.4,-14.8, 5.4,-14, 4.2,-13.5, 3,-12.5, 2,-11, 1.2,-8];
const lgaBodyB = [0.9,-2, 0.9,4, 1.2,7, 2.2,9, 3.6,10.1, 5,10.6, 6.3,9.8, 7.2,10.5, 8.4,9.6, 9.6,9.2, 10.8,9.8, 11.8,7.8, 12.6,5, 13.3,2, 14.3,1.5, 14.5,-2, 14.3,-5.5, 13.3,-6.5, 12.6,-9, 11.8,-12, 10.6,-13.6, 9.2,-14, 8.3,-14.7, 7.4,-13.9, 6.4,-14.6, 5.4,-13.9, 4.2,-13.4, 3,-12.4, 2,-11, 1.2,-8];
const lgaBodyC = [0.9,-2, 0.9,4, 1.2,7, 2.2,9, 3.6,9.8, 5,10.2, 6.3,9.5, 7.2,10, 8.4,9.3, 9.6,8.9, 10.8,9.3, 11.8,7.5, 12.6,4.5, 13,1.5, 13.2,-2, 13,-6, 12.6,-9, 11.8,-12, 10.6,-13.8, 9.2,-14.2, 8.3,-14.9, 7.4,-14, 6.4,-14.8, 5.4,-14, 4.2,-13.5, 3,-12.5, 2,-11, 1.2,-8];
const lgaBodyD = [0.9,-2, 0.9,4, 1.2,8, 2.2,10, 3.6,10.5, 5,11.5, 6.3,10.5, 7.2,12, 8.4,10.8, 9.6,10.5, 10.8,11, 11.8,8.5, 12.6,6, 13.3,2.5, 14.3,1.5, 14.5,-2, 14.3,-5.5, 13.3,-6.5, 12.6,-9, 11.8,-12, 10.6,-13.8, 9.2,-14.2, 8.3,-14.9, 7.4,-14, 6.4,-14.8, 5.4,-14, 4.2,-13.5, 3,-12.5, 2,-11, 1.2,-8];

const lgaContours = [
 [lgaBodyA, [7.9,12.8, 8.3,10.3, 8.6,6, 8.7,0, 8.5,-8, 7.9,-12.5, 7.3,-8, 7.1,0, 7.2,6, 7.5,10.3], [16.2,5.8, 17.1,2, 17.3,-2, 17.1,-6, 16.2,-9.7, 15.2,-6, 15,-2, 15.2,2], ...lgaCore],
 [lgaBodyB, [7.7,17.9, 8.1,15.4, 8.4,6, 8.5,0, 8.3,-8, 7.7,-12.5, 7.1,-8, 6.9,0, 7,6, 7.3,15.4], [16.4,4.3, 17.2,1.2, 17.4,-2, 17.2,-5, 16.4,-8.3, 15.7,-5, 15.5,-2, 15.7,1.2], ...lgaCore],
 [lgaBodyA, [7.8,13.1, 8.2,10.6, 8.5,6, 8.6,0, 8.4,-8, 7.8,-12.5, 7.2,-8, 7,0, 7.1,6, 7.4,10.6], [16,5, 17,1.5, 17.2,-2, 17,-5.5, 16,-9, 15.1,-5.5, 14.9,-2, 15.1,1.5], ...lgaCore],
 [lgaBodyA, [5.9,11.3, 6.3,8.8, 6.6,6, 6.7,0, 6.5,-8, 5.9,-12.5, 5.3,-8, 5.1,0, 5.2,6, 5.5,8.8], [15.7,6.9, 17,2.5, 17.2,0.5, 17,-2.5, 15.7,-5.7, 14.8,-2.5, 14.7,0.5, 14.8,2.5], ...lgaCore],
 [lgaBodyB, [7.4,14.6, 7.8,12.1, 8.1,6, 8.2,0, 8,-8, 7.4,-12.5, 6.8,-8, 6.6,0, 6.7,6, 7,12.1], [16.2,3.5, 17,0.8, 17.2,-1.2, 17,-3.6, 16.2,-6, 15.4,-3.6, 15.2,-1.2, 15.4,0.8], ...lgaCore],
 [lgaBodyB, [7.7,15, 8.1,12.5, 8.4,6, 8.5,0, 8.3,-8, 7.7,-12.5, 7.1,-8, 6.9,0, 7,6, 7.3,12.5], [16,1.3, 17,-0.5, 17.1,-1.2, 17,-2.3, 16,-3.8, 14.9,-2.3, 14.8,-1.2, 14.9,-0.5], ...lgaCore],
 [lgaBodyC, [7.5,18.5, 7.9,16, 8.2,6, 8.3,0, 8.1,-8, 7.5,-12.5, 6.9,-8, 6.7,0, 6.8,6, 7.1,16], [14.7,7.2, 15.5,2.8, 15.7,-0.2, 15.5,-3.8, 14.7,-7.5, 13.9,-3.8, 13.7,-0.2, 13.9,2.8], ...lgaCore],
 [lgaBodyB, [7.7,14.6, 8.1,12.1, 8.4,6, 8.5,0, 8.3,-8, 7.7,-12.5, 7.1,-8, 6.9,0, 7,6, 7.3,12.1], [16.3,3.5, 17.1,0.5, 17.3,-1.7, 17.1,-4.3, 16.3,-6.9, 15.5,-4.3, 15.3,-1.7, 15.5,0.5], ...lgaCore],
 [lgaBodyB, [6.2,12.4, 6.6,9.9, 6.9,6, 7,0, 6.8,-8, 6.2,-12.5, 5.6,-8, 5.4,0, 5.5,6, 5.8,9.9], [16.1,3.5, 17.4,0.3, 17.6,-2.4, 17.4,-5.3, 16.1,-8.3, 14.9,-5.3, 14.7,-2.4, 14.9,0.3], ...lgaCore],
 [lgaBodyB, [7.7,13.5, 8.1,11, 8.4,6, 8.5,0, 8.3,-8, 7.7,-12.5, 7.1,-8, 6.9,0, 7,6, 7.3,11], [16.4,3.5, 17.1,0.3, 17.3,-2, 17.1,-4.8, 16.4,-7.5, 15.8,-4.8, 15.6,-2, 15.8,0.3], ...lgaCore],
 [lgaBodyA, [8,12, 8.4,9.5, 8.7,6, 8.8,0, 8.6,-8, 8,-12.5, 7.4,-8, 7.2,0, 7.3,6, 7.6,9.5], [16.1,-0.1, 17,-1.3, 17.1,-2, 17,-2.8, 16.1,-3.8, 15.2,-2.8, 15.1,-2, 15.2,-1.3], ...lgaCore],
 [lgaBodyD, [7.5,21.2, 7.9,18.7, 8.2,6, 8.3,0, 8.1,-8, 7.5,-12.5, 6.9,-8, 6.7,0, 6.8,6, 7.1,18.7], [10.8,19, 11.2,16.5, 11.5,6, 11.6,0, 11.4,-8, 10.8,-12, 10.2,-8, 10,0, 10.1,6, 10.4,16.5], [16.3,1, 17.2,-1, 17.4,-2.2, 17.2,-3.6, 16.3,-5.3, 15.4,-3.6, 15.2,-2.2, 15.4,-1], ...lgaCore]
];

// ---------- layout ----------
const FONT = '"Liberation Sans", Arial, Helvetica, sans-serif';
const L0 = 98.3, PW = 69, CSTEP = 84.04, T0 = 60, PH = 178.7, RSTEP = 193.1;
const contourSets = [ewrContours, jfkContours, lgaContours];
// ECharts drops the label next to a forced min/max label when they overlap; blank guard
// positions at the panel edges take that role so that 0, 1000 and 2000 all stay visible.
const xLabelPositions = [distanceRange[0] + 5].concat(xTickValues, [distanceRange[1] - 5]);

const gridLineData = [];
xMinorValues.forEach(v => gridLineData.push([v, 0, 0]));
xTickValues.forEach(v => gridLineData.push([v, 0, 1]));
yMinorValues.forEach(v => gridLineData.push([0, v, 2]));
yTickValues.forEach(v => gridLineData.push([0, v, 3]));

function renderGridLine(params, api) {
  const kind = api.value(2);
  let p1, p2;
  if (kind < 2) { const v = api.value(0); p1 = api.coord([v, delayRange[0]]); p2 = api.coord([v, delayRange[1]]); }
  else { const v = api.value(1); p1 = api.coord([distanceRange[0], v]); p2 = api.coord([distanceRange[1], v]); }
  return { type: 'line', shape: { x1: p1[0], y1: p1[1], x2: p2[0], y2: p2[1] },
           style: { stroke: '#FFFFFF', lineWidth: (kind % 2) ? 2.2 : 1.1 } };
}
function makeContourRenderer(rings) {
  return function (params, api) {
    const ring = rings[params.dataIndex];
    const pts = [];
    for (let k = 0; k < ring.length; k += 2) pts.push(api.coord([ring[k] * 100, ring[k + 1]]));
    return { type: 'polygon', shape: { points: pts, smooth: 0.4 },
             style: { fill: 'none', stroke: '#3366FF', lineWidth: 2.5 } };
  };
}
const xLabelText = v => (xTickValues.indexOf(Math.round(v)) >= 0 ? String(Math.round(v)) : '');
const yLabelText = v => String(Math.round(v));

const grids = [], xAxes = [], yAxes = [], series = [], graphics = [];
for (let r = 0; r < 3; r++) {
  for (let c = 0; c < 12; c++) {
    const gi = grids.length;
    grids.push({ left: L0 + c * CSTEP, top: T0 + r * RSTEP, width: PW, height: PH,
                 show: true, backgroundColor: '#EBEBEB', borderWidth: 0 });
    xAxes.push({ type: 'value', gridIndex: gi, min: distanceRange[0], max: distanceRange[1],
      axisLine: { show: false, onZero: false },
      axisTick: { show: r === 2, length: 7, customValues: xLabelPositions, lineStyle: { color: '#333333', width: 2 } },
      axisLabel: { show: r === 2, customValues: xLabelPositions, formatter: xLabelText, hideOverlap: false,
                   showMinLabel: false, showMaxLabel: false,
                   color: '#4D4D4D', fontSize: 22, fontFamily: FONT, margin: 10 },
      splitLine: { show: false } });
    yAxes.push({ type: 'value', gridIndex: gi, min: delayRange[0], max: delayRange[1],
      axisLine: { show: false, onZero: false },
      axisTick: { show: c === 0, length: 7, customValues: yTickValues, lineStyle: { color: '#333333', width: 2 } },
      axisLabel: { show: c === 0, customValues: yTickValues, formatter: yLabelText, hideOverlap: false,
                   showMinLabel: true, showMaxLabel: true,
                   color: '#4D4D4D', fontSize: 22, fontFamily: FONT, margin: 15 },
      splitLine: { show: false } });
    series.push({ type: 'custom', xAxisIndex: gi, yAxisIndex: gi, renderItem: renderGridLine,
      data: gridLineData, clip: true, silent: true, z: 1, animation: false });
    const rings = contourSets[r][c];
    series.push({ type: 'custom', xAxisIndex: gi, yAxisIndex: gi, renderItem: makeContourRenderer(rings),
      data: rings.map((ring, i) => [ring[0] * 100, ring[1], i]), clip: true, silent: true, z: 2, animation: false });
  }
}
// strips
for (let c = 0; c < 12; c++) {
  const x = L0 + c * CSTEP;
  graphics.push({ type: 'rect', shape: { x: x, y: 15, width: PW, height: 45 }, style: { fill: '#D9D9D9' }, silent: true });
  graphics.push({ type: 'text', x: x + PW / 2, y: 37.5, silent: true,
    style: { text: months[c], fill: '#1A1A1A', font: '22px ' + FONT, align: 'center', verticalAlign: 'middle', textAlign: 'center', textVerticalAlign: 'middle' } });
}
for (let r = 0; r < 3; r++) {
  const y = T0 + r * RSTEP;
  graphics.push({ type: 'rect', shape: { x: L0 + 11 * CSTEP + PW, y: y, width: 45, height: PH }, style: { fill: '#D9D9D9' }, silent: true });
  graphics.push({ type: 'text', x: L0 + 11 * CSTEP + PW + 22.5, y: y + PH / 2, rotation: -Math.PI / 2, silent: true,
    style: { text: origins[r], fill: '#1A1A1A', font: '22px ' + FONT, align: 'center', verticalAlign: 'middle', textAlign: 'center', textVerticalAlign: 'middle' } });
}
// axis titles
graphics.push({ type: 'text', x: L0 + (11 * CSTEP + PW) / 2, y: 681, silent: true,
  style: { text: 'distance', fill: '#000000', font: '27px ' + FONT, align: 'center', verticalAlign: 'middle', textAlign: 'center', textVerticalAlign: 'middle' } });
graphics.push({ type: 'text', x: 30, y: T0 + (2 * RSTEP + PH) / 2, rotation: Math.PI / 2, silent: true,
  style: { text: 'dep_delay', fill: '#000000', font: '27px ' + FONT, align: 'center', verticalAlign: 'middle', textAlign: 'center', textVerticalAlign: 'middle' } });

const chart = echarts.init(document.getElementById('c'), null, { renderer: 'canvas', width: 1152, height: 711 });
chart.setOption({
  backgroundColor: '#FFFFFF',
  animation: false,
  grid: grids, xAxis: xAxes, yAxis: yAxes, series: series, graphic: graphics
});
</script>
</body></html>
